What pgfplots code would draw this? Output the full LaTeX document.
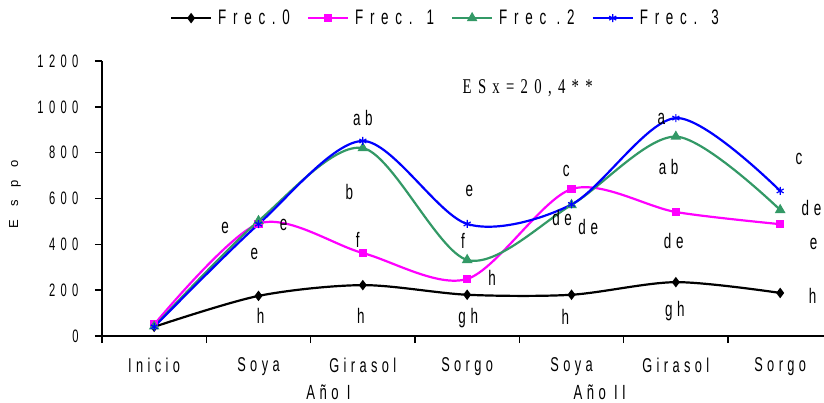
\documentclass[border=0pt]{standalone}
\usepackage{pgfplots}
\pgfplotsset{compat=1.18}
\usepackage{fontspec}
\setmainfont{Liberation Sans}
\newfontfamily\nsans{Liberation Sans}[FakeStretch=0.64,LetterSpace=22]
\newfontfamily\lsans{Liberation Sans}[FakeStretch=0.64,LetterSpace=32]
\newfontfamily\tsans{Liberation Sans}[FakeStretch=0.62,LetterSpace=30]
\newfontfamily\nserif{Liberation Serif}[FakeStretch=0.7,LetterSpace=30]
\definecolor{cgreen}{RGB}{51,153,102}
\definecolor{cmag}{RGB}{255,0,255}
\definecolor{cblue}{RGB}{0,0,255}
\newcommand{\lab}{\nsans\fontsize{21}{23}\selectfont}
\newcommand{\legent}[1]{\hspace*{4pt}#1\hspace*{15pt}}
\begin{document}
\begin{tikzpicture}
\path[use as bounding box] (0,0) rectangle (824pt,402pt);
\begin{axis}[
  at={(102pt,66pt)}, anchor=south west,
  scale only axis, width=722pt, height=275pt,
  xmin=-0.5, xmax=6.42, ymin=0, ymax=1200,
  clip=false,
  axis x line=bottom, axis y line=left,
  axis line style={-, line width=1.6pt, black},
  xtick={0,...,6},
  xticklabels={Inicio,Soya,Girasol,Sorgo,Soya,Girasol,Sorgo},
  major x tick style={draw=none},
  minor xtick={-0.5,0.5,1.5,2.5,3.5,4.5,5.5},
  minor x tick style={line width=1.4pt, black},
  minor tick length=7pt,
  major tick length=7pt,
  tick align=outside,
  ytick={0,200,...,1200},
  y tick style={line width=1.4pt, black},
  /pgf/number format/.cd, 1000 sep={}, assume math mode=true, /pgfplots/.cd,
  xticklabel style={font=\nsans\fontsize{20}{22}\selectfont, yshift=-11pt},
  yticklabel style={font=\tsans\fontsize{18}{20}\selectfont, xshift=-13pt},
  legend style={at={(0.486,1.156)}, anchor=center, draw=none, fill=none,
    legend columns=4, font=\lsans\fontsize{21}{23}\selectfont},
  legend image code/.code={\draw[mark repeat=2,mark phase=2,#1] plot coordinates {(0pt,0pt) (20pt,0pt) (40pt,0pt)};},
]
\addplot[black, line width=2.2pt, smooth, tension=0.5, mark=diamond*, mark size=3.5pt, mark options={solid, fill=black}]
  coordinates {(0,40)(1,175)(2,222)(3,180)(4,180)(5,235)(6,188)};
\addlegendentry{\legent{Frec.0}}
\addplot[cmag, line width=2.2pt, smooth, tension=0.5, mark=square*, mark size=3pt, mark options={solid, fill=cmag}]
  coordinates {(0,50)(1,490)(2,362)(3,249)(4,641)(5,541)(6,488)};
\addlegendentry{\legent{Frec. 1}}
\addplot[cgreen, line width=2.2pt, smooth, tension=0.5, mark=triangle*, mark size=4pt, mark options={solid, fill=cgreen}]
  coordinates {(0,42)(1,502)(2,820)(3,332)(4,572)(5,870)(6,550)};
\addlegendentry{\legent{Frec .2}}
\addplot[cblue, line width=2.2pt, smooth, tension=0.5, mark=asterisk, mark size=4pt, mark options={solid, line width=1.2pt}]
  coordinates {(0,40)(1,488)(2,851)(3,489)(4,574)(5,951)(6,633)};
\addlegendentry{\legent{Frec. 3}}

% letters
\node[font=\lab] at (axis cs:0.68,471) {e};
\node[font=\lab] at (axis cs:1.24,484) {e};
\node[font=\lab] at (axis cs:0.96,358) {e};
\node[font=\lab] at (axis cs:1.02,87) {h};
\node[font=\lab] at (axis cs:2.00,951) {ab};
\node[font=\lab] at (axis cs:1.87,628) {b};
\node[font=\lab] at (axis cs:1.95,419) {f};
\node[font=\lab] at (axis cs:1.98,87) {h};
\node[font=\lab] at (axis cs:3.02,633) {e};
\node[font=\lab] at (axis cs:2.96,415) {f};
\node[font=\lab] at (axis cs:3.24,253) {h};
\node[font=\lab] at (axis cs:3.01,79) {gh};
\node[font=\lab] at (axis cs:3.95,720) {c};
\node[font=\lab] at (axis cs:3.91,515) {de};
\node[font=\lab] at (axis cs:4.16,476) {de};
\node[font=\lab] at (axis cs:3.94,83) {h};
\node[font=\lab] at (axis cs:4.86,947) {a};
\node[font=\lab] at (axis cs:4.93,737) {ab};
\node[font=\lab] at (axis cs:4.98,415) {de};
\node[font=\lab] at (axis cs:4.99,109) {gh};
\node[font=\lab] at (axis cs:6.18,772) {c};
\node[font=\lab] at (axis cs:6.30,559) {de};
\node[font=\lab] at (axis cs:6.32,401) {e};
\node[font=\lab] at (axis cs:6.31,175) {h};
\node[font=\nserif\fontsize{21}{23}\selectfont] at (axis cs:3.58,1082) {ESx=20,4**};
\node[font=\nsans\fontsize{20.5}{22}\selectfont] at ([yshift=-56pt]axis cs:1.67,0) {Año I};
\node[font=\nsans\fontsize{20.5}{22}\selectfont] at ([yshift=-56pt]axis cs:4.27,0) {Año II};
\node[rotate=90, font=\fontsize{13}{15}\selectfont] at ([xshift=-87pt]rel axis cs:0,0.516) {E\kern13pt s\kern13pt p\kern13pt o};
\end{axis}
\end{tikzpicture}
\end{document}
